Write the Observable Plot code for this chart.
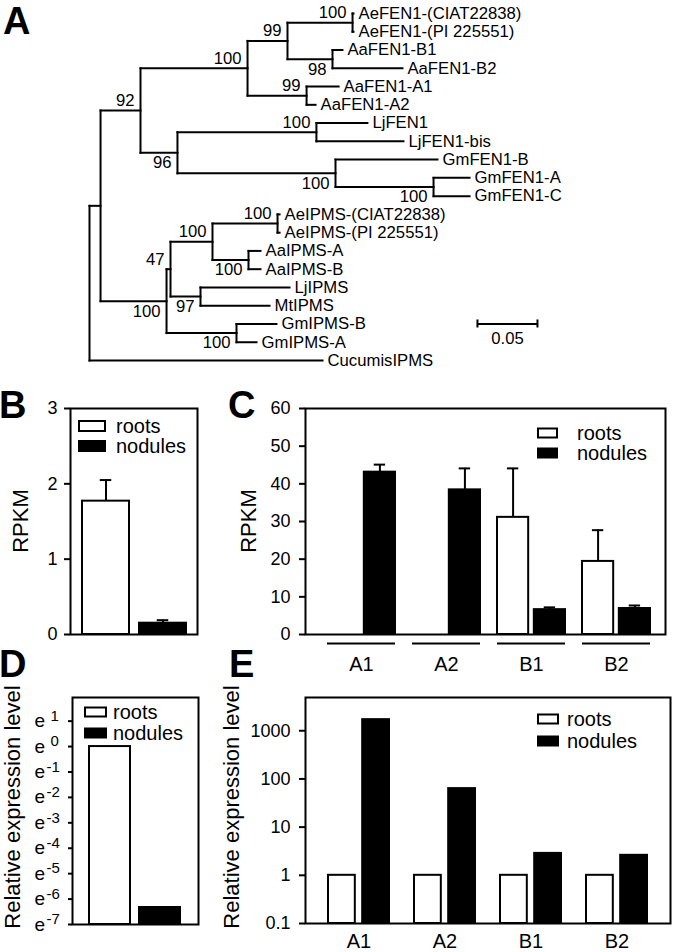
<!DOCTYPE html>
<html><head><meta charset="utf-8">
<script src="https://cdn.jsdelivr.net/npm/d3@7"></script>
<script src="https://cdn.jsdelivr.net/npm/@observablehq/plot@0.6"></script>
<style>
body{margin:0;background:#fff;}
#fig{position:relative;width:675px;height:952px;overflow:hidden;font-family:"Liberation Sans",Arial,Helvetica,sans-serif;background:#fff;}
.lab{position:absolute;font-weight:bold;font-size:38px;line-height:38px;color:#000;}
</style></head><body><div id="fig"></div>
<script>
// ---------------- Panel A: phylogenetic tree ----------------
const nodeIds = ["nIn","nFEN","nAeAa","nAeAaB","nAeFEN","AeFEN1-(CIAT22838)","AeFEN1-(PI 225551)","nAaB","AaFEN1-B1","AaFEN1-B2","nAaA","AaFEN1-A1","AaFEN1-A2","nLjGm","nLj","LjFEN1","LjFEN1-bis","nGm","GmFEN1-B","nGmAC","GmFEN1-A","GmFEN1-C","nIPMS","n47","n212","nAeIPMS","AeIPMS-(CIAT22838)","AeIPMS-(PI 225551)","nAaIPMS","AaIPMS-A","AaIPMS-B","n200","LjIPMS","MtIPMS","nGmIPMS","GmIPMS-B","GmIPMS-A","CucumisIPMS"];
const nodeParents = ["root","nIn","nFEN","nAeAa","nAeAaB","nAeFEN","nAeFEN","nAeAaB","nAaB","nAaB","nAeAa","nAaA","nAaA","nFEN","nLjGm","nLj","nLj","nLjGm","nGm","nGm","nGmAC","nGmAC","nIn","nIPMS","n47","n212","nAeIPMS","nAeIPMS","n212","nAaIPMS","nAaIPMS","n47","n200","n200","nIPMS","nGmIPMS","nGmIPMS","root"];
const branchLengths = [0.0092,0.0333,0.0892,0.0333,0.0542,0.0008,0.0008,0.0375,0.0083,0.0583,0.0492,0.0267,0.0075,0.0308,0.1158,0.0425,0.0725,0.1317,0.085,0.0817,0.03,0.03,0.055,0.0033,0.035,0.0542,0.0017,0.0017,0.03,0.01,0.01,0.025,0.0742,0.0575,0.0583,0.0333,0.0167,0.1942];
const bootstrapNodes = ["nFEN","nAeAa","nAeAaB","nAeFEN","nAaB","nAaA","nLjGm","nLj","nGm","nGmAC","nIPMS","n47","n212","nAeIPMS","nAaIPMS","n200","nGmIPMS"];
const bootstrapValues = [92,100,99,100,98,99,96,100,100,100,100,47,100,100,100,97,100];
const scaleBarLength = 0.05;
const scaleBarLabel = "0.05";

// ---------------- Panels B-E data ----------------
const tissues = ["roots","nodules"];
const rpkmB = [1.77, 0.15];
const rpkmBErr = [0.28, 0.04];
const ticksB = [0,1,2,3];

const genes = ["A1","A2","B1","B2"];
const rpkmCRoots = [0, 0, 31.1, 19.4];
const rpkmCRootsErr = [0, 0, 13.0, 8.3];
const rpkmCNodules = [43.1, 38.4, 6.6, 6.9];
const rpkmCNodulesErr = [2.0, 5.7, 0.6, 0.8];
const ticksC = [0,10,20,30,40,50,60];

const relD = [1, 0.00178];
const ticksDExp = [1,0,-1,-2,-3,-4,-5,-6,-7];

const relERoots = [1, 1, 1, 1];
const relENodules = [1700, 63, 2.85, 2.6];
const ticksE = [0.1, 1, 10, 100, 1000];

const titleRPKM = "RPKM";
const titleRel = "Relative expression level";

// ---------------- helpers ----------------
const fig = document.getElementById("fig");
const FONT = '"Liberation Sans", Arial, Helvetica, sans-serif';
const baseStyle = {fontFamily: FONT, fontSize: "18px", background: "transparent", overflow: "visible", color: "black"};
function place(svg, top) {
  svg.style.position = "absolute"; svg.style.left = "0px"; svg.style.top = top + "px";
  fig.appendChild(svg);
}
function addLegend(svg, {x, y, w, h, row, gap, size}) {
  const g = d3.select(svg).append("g").attr("text-anchor", "start");
  tissues.forEach((t, i) => {
    g.append("rect").attr("x", x).attr("y", y + i*row - h/2).attr("width", w).attr("height", h)
      .attr("fill", t === "roots" ? "white" : "black").attr("stroke", "black").attr("stroke-width", 2);
    g.append("text").attr("x", x + w + gap).attr("y", y + i*row).attr("dy", "0.35em")
      .attr("text-anchor", "start").attr("font-size", size).attr("fill", "black").text(t);
  });
}
function addTitle(svg, text, x, y) {
  d3.select(svg).append("text")
    .attr("transform", `translate(${x},${y}) rotate(-90)`)
    .attr("text-anchor", "middle").attr("dy", "0.35em")
    .attr("font-size", 22).attr("fill", "black").text(text);
}
function letter(ch, left, top) {
  const d = document.createElement("div"); d.className = "lab"; d.textContent = ch;
  d.style.left = left + "px"; d.style.top = top + "px"; fig.appendChild(d);
}
function bandwidth(range, n, pi) { return (range[1]-range[0])/(n - pi)*(1 - pi); }

// ---------------- tree layout ----------------
const kids = new Map();
nodeIds.forEach((id, i) => { const p = nodeParents[i]; if (!kids.has(p)) kids.set(p, []); kids.get(p).push(id); });
const blen = new Map(nodeIds.map((id, i) => [id, branchLengths[i]]));
const parentOf = new Map(nodeIds.map((id, i) => [id, nodeParents[i]]));
const depth = new Map(), ypos = new Map();
let nLeaves = 0;
(function lay(id, d) {
  depth.set(id, d);
  const ch = kids.get(id) || [];
  if (!ch.length) { ypos.set(id, nLeaves++); return; }
  ch.forEach(c => lay(c, d + blen.get(c)));
  ypos.set(id, (ypos.get(ch[0]) + ypos.get(ch[ch.length-1])) / 2);
})("root", 0);
const hLinks = nodeIds.map(id => ({x1: depth.get(parentOf.get(id)), x2: depth.get(id), y: ypos.get(id)}));
const vLinks = ["root", ...nodeIds].filter(id => kids.has(id)).map(id => {
  const ch = kids.get(id); return {x: depth.get(id), y1: ypos.get(ch[0]), y2: ypos.get(ch[ch.length-1])};
});
const leaves = nodeIds.filter(id => !kids.has(id)).map(id => ({name: id, x: depth.get(id), y: ypos.get(id)}));
const bs = bootstrapNodes.map((id, i) => {
  const first = kids.get(parentOf.get(id))[0] === id;
  return {x: depth.get(id), y: ypos.get(id), v: String(bootstrapValues[i]), above: first || id === "nAaA"};
});
const sbX = 0.3233, sbRow = 17;
const treeLine = {stroke: "black", strokeWidth: 2, strokeLinecap: "square"};
const TF = 16.7;
const tree = Plot.plot({
  width: 675, height: 380, margin: 0, axis: null,
  style: {...baseStyle, fontSize: TF + "px"},
  x: {domain: [0, 0.5], range: [89, 689]},
  y: {domain: [0, nLeaves - 1], range: [13, 360]},
  marks: [
    Plot.link(hLinks, {x1: "x1", x2: "x2", y1: "y", y2: "y", ...treeLine}),
    Plot.link(vLinks, {x1: "x", x2: "x", y1: "y1", y2: "y2", ...treeLine}),
    Plot.text(leaves, {x: "x", y: "y", text: "name", textAnchor: "start", dx: 5, fontSize: TF, fill: "black"}),
    Plot.text(bs.filter(d => d.above), {x: "x", y: "y", text: "v", textAnchor: "end", dx: -6, dy: -10, fontSize: TF, fill: "black"}),
    Plot.text(bs.filter(d => !d.above), {x: "x", y: "y", text: "v", textAnchor: "end", dx: -6, dy: 10, fontSize: TF, fill: "black"}),
    Plot.link([{x1: sbX, x2: sbX + scaleBarLength, y: sbRow}], {x1: "x1", x2: "x2", y1: "y", y2: "y", stroke: "black", strokeWidth: 2}),
    Plot.ruleX([sbX, sbX + scaleBarLength], {x: d => d, y1: () => sbRow - 0.22, y2: () => sbRow + 0.22, stroke: "black", strokeWidth: 2}),
    Plot.text([scaleBarLabel], {x: () => sbX + scaleBarLength/2, y: () => sbRow, dy: 15, text: d => d, fontSize: TF, fill: "black"})
  ]
});
place(tree, 0);

// ---------------- Panel B ----------------
const bRange = [82, 187], bPad = 0.174, bBw = bandwidth(bRange, 2, bPad), capW = 12;
const bData = tissues.map((t, i) => ({t, v: rpkmB[i], e: rpkmBErr[i]}));
const panelB = Plot.plot({
  width: 675, height: 300, marginLeft: 70, marginRight: 478, marginTop: 28, marginBottom: 46,
  style: baseStyle,
  x: {type: "band", domain: tissues, range: bRange, paddingInner: bPad, paddingOuter: 0, axis: null},
  y: {domain: [0, 3], axis: null},
  marks: [
    Plot.ruleX(bData, {x: "t", y1: "v", y2: d => d.v + d.e, stroke: "black", strokeWidth: 2}),
    Plot.tickY(bData, {x: "t", y: d => d.v + d.e, insetLeft: (bBw - capW)/2, insetRight: (bBw - capW)/2, stroke: "black", strokeWidth: 2}),
    Plot.barY(bData.filter(d => d.t === "roots"), {x: "t", y: "v", fill: "white", stroke: "black", strokeWidth: 2}),
    Plot.barY(bData.filter(d => d.t === "nodules"), {x: "t", y: "v", fill: "black", stroke: "black", strokeWidth: 2}),
    Plot.frame({stroke: "black", strokeWidth: 2}),
    Plot.axisY({ticks: ticksB, tickSize: 6, tickPadding: 7, tickFormat: d => String(d), label: null, fontSize: 18, strokeWidth: 2})
  ]
});
addLegend(panelB, {x: 79, y: 46, w: 26, h: 10, row: 20, gap: 11, size: 20});
addTitle(panelB, titleRPKM, 20, 141);
place(panelB, 380);

// ---------------- Panel C ----------------
const cRange = [325, 651], cPad = 0.2, cGap = 5, cBw = bandwidth(cRange, 4, cPad);
const cOff = (cBw + cGap)/4;
const cRootsC = (cBw - cGap)/4, cNodC = cBw - (cBw - cGap)/4;
const cRootsData = genes.map((g, i) => ({g, v: rpkmCRoots[i], e: rpkmCRootsErr[i]}));
const cNodData = genes.map((g, i) => ({g, v: rpkmCNodules[i], e: rpkmCNodulesErr[i]}));
const panelC = Plot.plot({
  width: 675, height: 300, marginLeft: 305, marginRight: 10, marginTop: 28, marginBottom: 46,
  style: baseStyle,
  x: {type: "band", domain: genes, range: cRange, paddingInner: cPad, paddingOuter: 0},
  y: {domain: [0, 60]},
  marks: [
    Plot.ruleX(cRootsData.filter(d => d.e > 0), {x: "g", y1: "v", y2: d => d.v + d.e, dx: -cOff, stroke: "black", strokeWidth: 2}),
    Plot.tickY(cRootsData.filter(d => d.e > 0), {x: "g", y: d => d.v + d.e, insetLeft: cRootsC - capW/2, insetRight: cBw - cRootsC - capW/2, stroke: "black", strokeWidth: 2}),
    Plot.ruleX(cNodData, {x: "g", y1: "v", y2: d => d.v + d.e, dx: cOff, stroke: "black", strokeWidth: 2}),
    Plot.tickY(cNodData, {x: "g", y: d => d.v + d.e, insetLeft: cNodC - capW/2, insetRight: cBw - cNodC - capW/2, stroke: "black", strokeWidth: 2}),
    Plot.barY(cRootsData.filter(d => d.v > 0), {x: "g", y: "v", insetRight: cBw/2 + cGap/2, fill: "white", stroke: "black", strokeWidth: 2}),
    Plot.barY(cNodData, {x: "g", y: "v", insetLeft: cBw/2 + cGap/2, fill: "black", stroke: "black", strokeWidth: 2}),
    Plot.tickY(genes.map(g => ({g, y: 0})), {x: "g", y: "y", dy: 9, stroke: "black", strokeWidth: 2}),
    Plot.frame({stroke: "black", strokeWidth: 2}),
    Plot.axisY({ticks: ticksC, tickSize: 6, tickPadding: 9, tickFormat: d => String(d), label: null, fontSize: 18, strokeWidth: 2}),
    Plot.axisX({tickSize: 0, tickPadding: 22, label: null, fontSize: 20})
  ]
});
addLegend(panelC, {x: 538, y: 53, w: 19, h: 9, row: 20, gap: 20, size: 20});
addTitle(panelC, titleRPKM, 248, 141);
place(panelC, 380);

// ---------------- Panel D ----------------
const dRange = [89, 180], dPad = 0.18, dMin = Math.exp(-7), dMax = Math.exp(1.93);
const dData = tissues.map((t, i) => ({t, v: relD[i]}));
const panelD = Plot.plot({
  width: 675, height: 292, marginLeft: 72, marginRight: 477, marginTop: 37, marginBottom: 28,
  style: baseStyle,
  x: {type: "band", domain: tissues, range: dRange, paddingInner: dPad, paddingOuter: 0, axis: null},
  y: {type: "log", base: Math.E, domain: [dMin, dMax], axis: null},
  marks: [
    Plot.barY(dData.filter(d => d.t === "roots"), {x: "t", y1: () => dMin, y2: "v", fill: "white", stroke: "black", strokeWidth: 2}),
    Plot.barY(dData.filter(d => d.t === "nodules"), {x: "t", y1: () => dMin, y2: "v", fill: "black", stroke: "black", strokeWidth: 2}),
    Plot.frame({stroke: "black", strokeWidth: 2}),
    Plot.axisY({ticks: ticksDExp.map(k => Math.exp(k)), tickSize: 4, tickFormat: () => "", label: null, strokeWidth: 2}),
    Plot.text(ticksDExp, {y: k => Math.exp(k), frameAnchor: "left", dx: -38, text: () => "e", textAnchor: "start", fontSize: 19, fill: "black"}),
    Plot.text(ticksDExp.filter(k => k < 0), {y: k => Math.exp(k), frameAnchor: "left", dx: -26, dy: -5, text: k => "-" + Math.abs(k), textAnchor: "start", fontSize: 15, fill: "black"}),
    Plot.text(ticksDExp.filter(k => k >= 0), {y: k => Math.exp(k), frameAnchor: "left", dx: -22, dy: -5, text: k => String(k), textAnchor: "start", fontSize: 15, fill: "black"})
  ]
});
addLegend(panelD, {x: 85, y: 52, w: 21, h: 9, row: 21, gap: 7, size: 20});
addTitle(panelD, titleRel, 12, 147);
place(panelD, 660);

// ---------------- Panel E ----------------
const eRange = [328, 648], ePad = 0.288, eGap = 7, eBw = bandwidth(eRange, 4, ePad), eMin = 0.1, eMax = Math.pow(10, 3.69);
const eRootsData = genes.map((g, i) => ({g, v: relERoots[i]}));
const eNodData = genes.map((g, i) => ({g, v: relENodules[i]}));
const panelE = Plot.plot({
  width: 675, height: 292, marginLeft: 305, marginRight: 5, marginTop: 37, marginBottom: 29,
  style: baseStyle,
  x: {type: "band", domain: genes, range: eRange, paddingInner: ePad, paddingOuter: 0},
  y: {type: "log", domain: [eMin, eMax]},
  marks: [
    Plot.barY(eRootsData, {x: "g", y1: () => eMin, y2: "v", insetRight: eBw/2 + eGap/2, fill: "white", stroke: "black", strokeWidth: 2}),
    Plot.barY(eNodData, {x: "g", y1: () => eMin, y2: "v", insetLeft: eBw/2 + eGap/2, fill: "black", stroke: "black", strokeWidth: 2}),
    Plot.frame({stroke: "black", strokeWidth: 2}),
    Plot.axisY({ticks: ticksE, tickSize: 6, tickPadding: 9, tickFormat: d => String(d), label: null, fontSize: 18, strokeWidth: 2}),
    Plot.axisX({tickSize: 0, tickPadding: 10, label: null, fontSize: 20})
  ]
});
addLegend(panelE, {x: 538, y: 59, w: 20, h: 9, row: 22, gap: 9, size: 20});
addTitle(panelE, titleRel, 231, 147);
place(panelE, 660);

// ---------------- panel letters ----------------
letter("A", 3, 2);
letter("B", -1, 386);
letter("C", 228, 386);
letter("D", -1, 645);
letter("E", 229, 645);
</script></body></html>
